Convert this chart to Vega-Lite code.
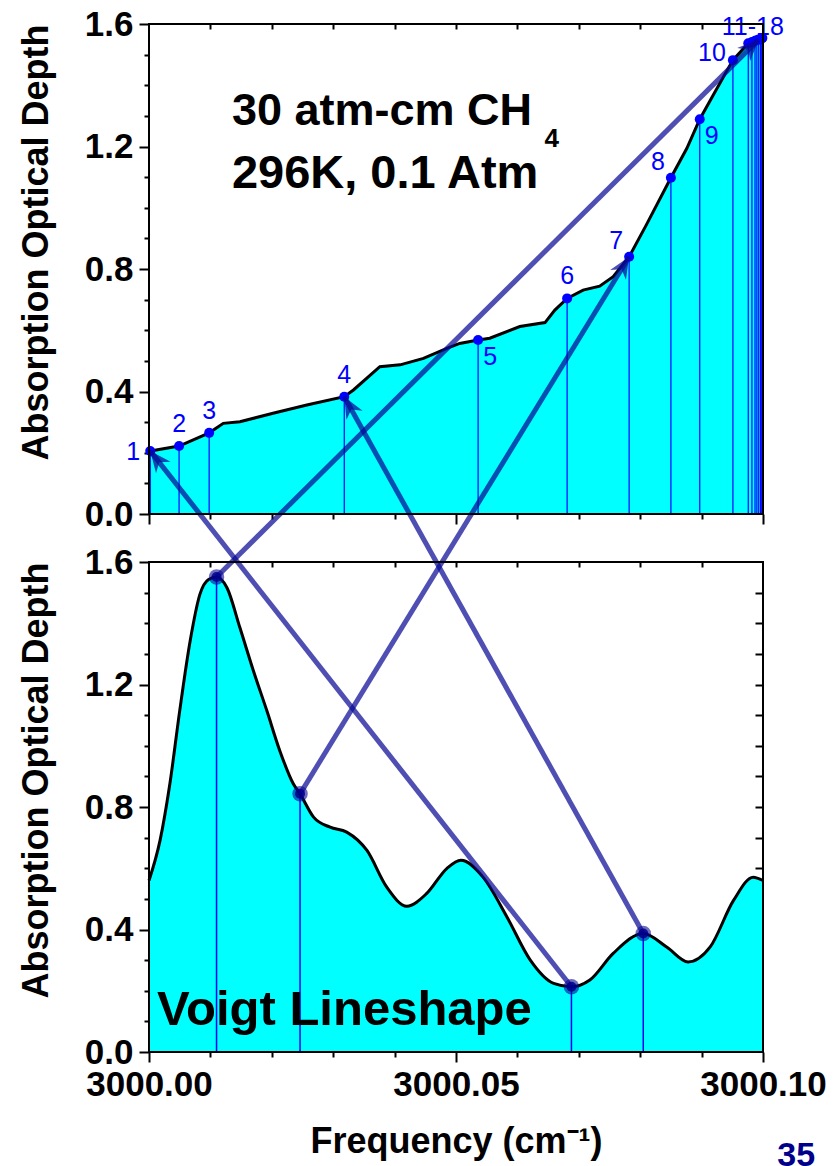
{
  "$schema": "https://vega.github.io/schema/vega-lite/v6.json",
  "width": 614,
  "height": 1028,
  "autosize": {"type": "none"},
  "padding": {"left": 149, "top": 24, "right": 71, "bottom": 114},
  "background": "white",
  "config": {
    "view": {"stroke": null},
    "text": {"font": "Liberation Sans"},
    "axis": {
      "zindex": 1,
      "grid": false,
      "domainColor": "black",
      "domainWidth": 2,
      "tickColor": "black",
      "tickWidth": 2,
      "labelColor": "black",
      "labelFont": "Liberation Sans",
      "labelFontWeight": "bold",
      "labelFontSize": 35,
      "labelFlush": false,
      "labelOverlap": false,
      "titleFont": "Liberation Sans",
      "titleFontWeight": "bold",
      "titleColor": "black"
    }
  },
  "datasets": {
    "topCurve": [
      {"freq": 3000.0000, "depth": 0.205},
      {"freq": 3000.0049, "depth": 0.222},
      {"freq": 3000.0098, "depth": 0.265},
      {"freq": 3000.0121, "depth": 0.296},
      {"freq": 3000.0148, "depth": 0.301},
      {"freq": 3000.0202, "depth": 0.329},
      {"freq": 3000.0257, "depth": 0.356},
      {"freq": 3000.0318, "depth": 0.383},
      {"freq": 3000.0333, "depth": 0.405},
      {"freq": 3000.0376, "depth": 0.481},
      {"freq": 3000.0409, "depth": 0.487},
      {"freq": 3000.0447, "depth": 0.508},
      {"freq": 3000.0485, "depth": 0.541},
      {"freq": 3000.0506, "depth": 0.557},
      {"freq": 3000.0536, "depth": 0.568},
      {"freq": 3000.0555, "depth": 0.574},
      {"freq": 3000.0604, "depth": 0.612},
      {"freq": 3000.0645, "depth": 0.625},
      {"freq": 3000.0661, "depth": 0.666},
      {"freq": 3000.0681, "depth": 0.704},
      {"freq": 3000.0707, "depth": 0.731},
      {"freq": 3000.0734, "depth": 0.744},
      {"freq": 3000.0756, "depth": 0.775},
      {"freq": 3000.0782, "depth": 0.840},
      {"freq": 3000.0810, "depth": 0.944},
      {"freq": 3000.0850, "depth": 1.098},
      {"freq": 3000.0876, "depth": 1.194},
      {"freq": 3000.0897, "depth": 1.289},
      {"freq": 3000.0919, "depth": 1.368},
      {"freq": 3000.0951, "depth": 1.482},
      {"freq": 3000.0976, "depth": 1.537},
      {"freq": 3000.1000, "depth": 1.555}
    ],
    "topPoints": [
      {"n": 1, "group": "1", "freq": 3000.0002, "depth": 0.206},
      {"n": 2, "group": "2", "freq": 3000.0049, "depth": 0.222},
      {"n": 3, "group": "3", "freq": 3000.0098, "depth": 0.265},
      {"n": 4, "group": "4", "freq": 3000.0318, "depth": 0.383},
      {"n": 5, "group": "5", "freq": 3000.0536, "depth": 0.568},
      {"n": 6, "group": "6", "freq": 3000.0681, "depth": 0.704},
      {"n": 7, "group": "7", "freq": 3000.0782, "depth": 0.840},
      {"n": 8, "group": "8", "freq": 3000.0850, "depth": 1.098},
      {"n": 9, "group": "9", "freq": 3000.0897, "depth": 1.289},
      {"n": 10, "group": "10", "freq": 3000.0951, "depth": 1.482},
      {"n": 11, "group": "11-18", "freq": 3000.0976, "depth": 1.537},
      {"n": 12, "group": "11-18", "freq": 3000.0982, "depth": 1.541},
      {"n": 13, "group": "11-18", "freq": 3000.0987, "depth": 1.545},
      {"n": 14, "group": "11-18", "freq": 3000.0990, "depth": 1.547},
      {"n": 15, "group": "11-18", "freq": 3000.0993, "depth": 1.549},
      {"n": 16, "group": "11-18", "freq": 3000.0996, "depth": 1.551},
      {"n": 17, "group": "11-18", "freq": 3000.0998, "depth": 1.553},
      {"n": 18, "group": "11-18", "freq": 3000.0999, "depth": 1.554}
    ],
    "bottomCurve": [
      {"freq": 3000.0000, "depth": 0.560},
      {"freq": 3000.0018, "depth": 0.691},
      {"freq": 3000.0034, "depth": 0.876},
      {"freq": 3000.0050, "depth": 1.114},
      {"freq": 3000.0067, "depth": 1.342},
      {"freq": 3000.0083, "depth": 1.495},
      {"freq": 3000.0097, "depth": 1.543},
      {"freq": 3000.0110, "depth": 1.551},
      {"freq": 3000.0127, "depth": 1.516},
      {"freq": 3000.0148, "depth": 1.386},
      {"freq": 3000.0170, "depth": 1.245},
      {"freq": 3000.0192, "depth": 1.114},
      {"freq": 3000.0213, "depth": 0.984},
      {"freq": 3000.0235, "depth": 0.876},
      {"freq": 3000.0246, "depth": 0.843},
      {"freq": 3000.0268, "depth": 0.767},
      {"freq": 3000.0295, "depth": 0.734},
      {"freq": 3000.0322, "depth": 0.718},
      {"freq": 3000.0355, "depth": 0.658},
      {"freq": 3000.0387, "depth": 0.539},
      {"freq": 3000.0420, "depth": 0.476},
      {"freq": 3000.0452, "depth": 0.517},
      {"freq": 3000.0485, "depth": 0.599},
      {"freq": 3000.0508, "depth": 0.626},
      {"freq": 3000.0544, "depth": 0.571},
      {"freq": 3000.0583, "depth": 0.441},
      {"freq": 3000.0621, "depth": 0.300},
      {"freq": 3000.0659, "depth": 0.224},
      {"freq": 3000.0688, "depth": 0.213},
      {"freq": 3000.0718, "depth": 0.235},
      {"freq": 3000.0756, "depth": 0.322},
      {"freq": 3000.0805, "depth": 0.387},
      {"freq": 3000.0843, "depth": 0.343},
      {"freq": 3000.0878, "depth": 0.294},
      {"freq": 3000.0914, "depth": 0.343},
      {"freq": 3000.0952, "depth": 0.495},
      {"freq": 3000.0984, "depth": 0.571},
      {"freq": 3000.1000, "depth": 0.560}
    ],
    "arrows": [
      {"id": "A", "from_freq": 3000.0110, "from_depth": 1.551, "to_freq": 3000.0993, "to_depth": 1.549},
      {"id": "B", "from_freq": 3000.0246, "from_depth": 0.843, "to_freq": 3000.0782, "to_depth": 0.840},
      {"id": "C", "from_freq": 3000.0688, "from_depth": 0.213, "to_freq": 3000.0002, "to_depth": 0.206},
      {"id": "D", "from_freq": 3000.0805, "from_depth": 0.387, "to_freq": 3000.0318, "to_depth": 0.383}
    ]
  },
  "resolve": {"scale": {"x": "independent", "y": "independent"}},
  "layer": [
    {
      "data": {"name": "topCurve"},
      "mark": {"type": "area", "color": "#00FFFF", "opacity": 1},
      "encoding": {
        "x": {"field": "freq", "type": "quantitative", "scale": {"domain": [3000, 3000.1], "nice": false, "zero": false}, "axis": null},
        "y": {"field": "depth", "type": "quantitative", "scale": {"domain": [0, 1.6], "range": [490, 0], "nice": false, "zero": false}, "axis": null}
      }
    },
    {
      "data": {"name": "topPoints"},
      "mark": {"type": "rule", "color": "#0000FF", "strokeWidth": 1.2},
      "encoding": {
        "x": {"field": "freq", "type": "quantitative", "scale": {"domain": [3000, 3000.1], "nice": false, "zero": false}, "axis": null},
        "y": {"field": "depth", "type": "quantitative", "scale": {"domain": [0, 1.6], "range": [490, 0], "nice": false, "zero": false}, "axis": null},
        "y2": {"datum": 0}
      }
    },
    {
      "data": {"name": "topCurve"},
      "mark": {"type": "line", "color": "black", "strokeWidth": 3},
      "encoding": {
        "x": {"field": "freq", "type": "quantitative", "scale": {"domain": [3000, 3000.1], "nice": false, "zero": false}, "axis": null},
        "y": {"field": "depth", "type": "quantitative", "scale": {"domain": [0, 1.6], "range": [490, 0], "nice": false, "zero": false}, "axis": null}
      }
    },
    {
      "data": {"name": "topPoints"},
      "mark": {"type": "circle", "color": "#0000FF", "opacity": 1, "size": 100},
      "encoding": {
        "x": {"field": "freq", "type": "quantitative", "scale": {"domain": [3000, 3000.1], "nice": false, "zero": false}, "axis": null},
        "y": {"field": "depth", "type": "quantitative", "scale": {"domain": [0, 1.6], "range": [490, 0], "nice": false, "zero": false}, "axis": null}
      }
    },
    {
      "data": {"name": "topPoints"},
      "transform": [{"filter": {"field": "n", "oneOf": [2, 3, 4, 6]}}],
      "mark": {"type": "text", "color": "#0000FF", "fontSize": 25, "align": "center", "baseline": "middle", "dy": -22},
      "encoding": {
        "x": {"field": "freq", "type": "quantitative", "scale": {"domain": [3000, 3000.1], "nice": false, "zero": false}, "axis": null},
        "y": {"field": "depth", "type": "quantitative", "scale": {"domain": [0, 1.6], "range": [490, 0], "nice": false, "zero": false}, "axis": null},
        "text": {"field": "group"}
      }
    },
    {
      "data": {"name": "topPoints"},
      "transform": [{"filter": {"field": "n", "oneOf": [5, 9]}}],
      "mark": {"type": "text", "color": "#0000FF", "fontSize": 25, "align": "center", "baseline": "middle", "dx": 12, "dy": 17},
      "encoding": {
        "x": {"field": "freq", "type": "quantitative", "scale": {"domain": [3000, 3000.1], "nice": false, "zero": false}, "axis": null},
        "y": {"field": "depth", "type": "quantitative", "scale": {"domain": [0, 1.6], "range": [490, 0], "nice": false, "zero": false}, "axis": null},
        "text": {"field": "group"}
      }
    },
    {
      "data": {"name": "topPoints"},
      "transform": [{"filter": {"field": "n", "oneOf": [7, 8]}}],
      "mark": {"type": "text", "color": "#0000FF", "fontSize": 25, "align": "center", "baseline": "middle", "dx": -13, "dy": -16},
      "encoding": {
        "x": {"field": "freq", "type": "quantitative", "scale": {"domain": [3000, 3000.1], "nice": false, "zero": false}, "axis": null},
        "y": {"field": "depth", "type": "quantitative", "scale": {"domain": [0, 1.6], "range": [490, 0], "nice": false, "zero": false}, "axis": null},
        "text": {"field": "group"}
      }
    },
    {
      "data": {"name": "topPoints"},
      "transform": [{"filter": {"field": "n", "oneOf": [1]}}],
      "mark": {"type": "text", "color": "#0000FF", "fontSize": 25, "align": "right", "baseline": "middle", "dx": -10, "dy": 1},
      "encoding": {
        "x": {"field": "freq", "type": "quantitative", "scale": {"domain": [3000, 3000.1], "nice": false, "zero": false}, "axis": null},
        "y": {"field": "depth", "type": "quantitative", "scale": {"domain": [0, 1.6], "range": [490, 0], "nice": false, "zero": false}, "axis": null},
        "text": {"field": "group"}
      }
    },
    {
      "data": {"name": "topPoints"},
      "transform": [{"filter": {"field": "n", "oneOf": [10]}}],
      "mark": {"type": "text", "color": "#0000FF", "fontSize": 25, "align": "right", "baseline": "middle", "dx": -7, "dy": -7},
      "encoding": {
        "x": {"field": "freq", "type": "quantitative", "scale": {"domain": [3000, 3000.1], "nice": false, "zero": false}, "axis": null},
        "y": {"field": "depth", "type": "quantitative", "scale": {"domain": [0, 1.6], "range": [490, 0], "nice": false, "zero": false}, "axis": null},
        "text": {"field": "group"}
      }
    },
    {
      "data": {"name": "topPoints"},
      "transform": [{"filter": {"field": "n", "oneOf": [14]}}],
      "mark": {"type": "text", "color": "#0000FF", "fontSize": 25, "align": "center", "baseline": "middle", "dx": -4, "dy": -13},
      "encoding": {
        "x": {"field": "freq", "type": "quantitative", "scale": {"domain": [3000, 3000.1], "nice": false, "zero": false}, "axis": null},
        "y": {"field": "depth", "type": "quantitative", "scale": {"domain": [0, 1.6], "range": [490, 0], "nice": false, "zero": false}, "axis": null},
        "text": {"field": "group"}
      }
    },
    {
      "data": {"values": [{"note": "30 atm-cm CH"}]},
      "mark": {"type": "text", "color": "black", "fontSize": 45, "fontWeight": "bold", "align": "left", "baseline": "alphabetic"},
      "encoding": {
        "x": {"datum": 3000.0135, "type": "quantitative", "scale": {"domain": [3000, 3000.1], "nice": false, "zero": false}, "axis": null},
        "y": {"datum": 1.27, "type": "quantitative", "scale": {"domain": [0, 1.6], "range": [490, 0], "nice": false, "zero": false}, "axis": null},
        "text": {"field": "note"}
      }
    },
    {
      "data": {"values": [{"note": "4"}]},
      "mark": {"type": "text", "color": "black", "fontSize": 26, "fontWeight": "bold", "align": "left", "baseline": "alphabetic"},
      "encoding": {
        "x": {"datum": 3000.0644, "type": "quantitative", "scale": {"domain": [3000, 3000.1], "nice": false, "zero": false}, "axis": null},
        "y": {"datum": 1.198, "type": "quantitative", "scale": {"domain": [0, 1.6], "range": [490, 0], "nice": false, "zero": false}, "axis": null},
        "text": {"field": "note"}
      }
    },
    {
      "data": {"values": [{"note": "296K, 0.1 Atm"}]},
      "mark": {"type": "text", "color": "black", "fontSize": 47, "fontWeight": "bold", "align": "left", "baseline": "alphabetic"},
      "encoding": {
        "x": {"datum": 3000.0135, "type": "quantitative", "scale": {"domain": [3000, 3000.1], "nice": false, "zero": false}, "axis": null},
        "y": {"datum": 1.0645, "type": "quantitative", "scale": {"domain": [0, 1.6], "range": [490, 0], "nice": false, "zero": false}, "axis": null},
        "text": {"field": "note"}
      }
    },
    {
      "data": {"name": "bottomCurve"},
      "mark": {"type": "area", "color": "#00FFFF", "opacity": 1, "interpolate": "monotone"},
      "encoding": {
        "x": {"field": "freq", "type": "quantitative", "scale": {"domain": [3000, 3000.1], "nice": false, "zero": false}, "axis": null},
        "y": {"field": "depth", "type": "quantitative", "scale": {"domain": [0, 1.6], "range": [1028, 538], "nice": false, "zero": false}, "axis": null}
      }
    },
    {
      "data": {"name": "arrows"},
      "mark": {"type": "rule", "color": "#0000FF", "strokeWidth": 1.5},
      "encoding": {
        "x": {"field": "from_freq", "type": "quantitative", "scale": {"domain": [3000, 3000.1], "nice": false, "zero": false}, "axis": null},
        "y": {"field": "from_depth", "type": "quantitative", "scale": {"domain": [0, 1.6], "range": [1028, 538], "nice": false, "zero": false}, "axis": null},
        "y2": {"datum": 0}
      }
    },
    {
      "data": {"name": "bottomCurve"},
      "mark": {"type": "line", "color": "black", "strokeWidth": 3, "interpolate": "monotone"},
      "encoding": {
        "x": {"field": "freq", "type": "quantitative", "scale": {"domain": [3000, 3000.1], "nice": false, "zero": false}, "axis": null},
        "y": {"field": "depth", "type": "quantitative", "scale": {"domain": [0, 1.6], "range": [1028, 538], "nice": false, "zero": false}, "axis": null}
      }
    },
    {
      "data": {"values": [{"note": "Voigt Lineshape"}]},
      "mark": {"type": "text", "color": "black", "fontSize": 49, "fontWeight": "bold", "align": "left", "baseline": "alphabetic"},
      "encoding": {
        "x": {"datum": 3000.0013, "type": "quantitative", "scale": {"domain": [3000, 3000.1], "nice": false, "zero": false}, "axis": null},
        "y": {"datum": 0.088, "type": "quantitative", "scale": {"domain": [0, 1.6], "range": [1028, 538], "nice": false, "zero": false}, "axis": null},
        "text": {"field": "note"}
      }
    },
    {
      "data": {"name": "arrows"},
      "mark": {"type": "rule", "color": "#0A0A96", "opacity": 0.72, "strokeWidth": 5, "y2Offset": -538},
      "encoding": {
        "x": {"field": "from_freq", "type": "quantitative", "scale": {"domain": [3000, 3000.1], "nice": false, "zero": false}, "axis": null},
        "y": {"field": "from_depth", "type": "quantitative", "scale": {"domain": [0, 1.6], "range": [1028, 538], "nice": false, "zero": false}, "axis": null},
        "x2": {"field": "to_freq"},
        "y2": {"field": "to_depth"}
      }
    },
    {
      "data": {"name": "arrows"},
      "transform": [{"filter": {"field": "id", "equal": "A"}}],
      "mark": {"type": "point", "shape": "M0,0 L0.7,1.6 L0,1.1 L-0.7,1.6 Z", "filled": true, "color": "#0A0A96", "opacity": 0.72, "size": 700, "angle": 45.2},
      "encoding": {
        "x": {"field": "to_freq", "type": "quantitative", "scale": {"domain": [3000, 3000.1], "nice": false, "zero": false}, "axis": null},
        "y": {"field": "to_depth", "type": "quantitative", "scale": {"domain": [0, 1.6], "range": [490, 0], "nice": false, "zero": false}, "axis": null}
      }
    },
    {
      "data": {"name": "arrows"},
      "transform": [{"filter": {"field": "id", "equal": "B"}}],
      "mark": {"type": "point", "shape": "M0,0 L0.7,1.6 L0,1.1 L-0.7,1.6 Z", "filled": true, "color": "#0A0A96", "opacity": 0.72, "size": 700, "angle": 31.6},
      "encoding": {
        "x": {"field": "to_freq", "type": "quantitative", "scale": {"domain": [3000, 3000.1], "nice": false, "zero": false}, "axis": null},
        "y": {"field": "to_depth", "type": "quantitative", "scale": {"domain": [0, 1.6], "range": [490, 0], "nice": false, "zero": false}, "axis": null}
      }
    },
    {
      "data": {"name": "arrows"},
      "transform": [{"filter": {"field": "id", "equal": "C"}}],
      "mark": {"type": "point", "shape": "M0,0 L0.7,1.6 L0,1.1 L-0.7,1.6 Z", "filled": true, "color": "#0A0A96", "opacity": 0.72, "size": 700, "angle": -38.2},
      "encoding": {
        "x": {"field": "to_freq", "type": "quantitative", "scale": {"domain": [3000, 3000.1], "nice": false, "zero": false}, "axis": null},
        "y": {"field": "to_depth", "type": "quantitative", "scale": {"domain": [0, 1.6], "range": [490, 0], "nice": false, "zero": false}, "axis": null}
      }
    },
    {
      "data": {"name": "arrows"},
      "transform": [{"filter": {"field": "id", "equal": "D"}}],
      "mark": {"type": "point", "shape": "M0,0 L0.7,1.6 L0,1.1 L-0.7,1.6 Z", "filled": true, "color": "#0A0A96", "opacity": 0.72, "size": 700, "angle": -29.1},
      "encoding": {
        "x": {"field": "to_freq", "type": "quantitative", "scale": {"domain": [3000, 3000.1], "nice": false, "zero": false}, "axis": null},
        "y": {"field": "to_depth", "type": "quantitative", "scale": {"domain": [0, 1.6], "range": [490, 0], "nice": false, "zero": false}, "axis": null}
      }
    },
    {
      "data": {"name": "arrows"},
      "mark": {"type": "circle", "color": "#0A0A96", "opacity": 0.6, "size": 240},
      "encoding": {
        "x": {"field": "from_freq", "type": "quantitative", "scale": {"domain": [3000, 3000.1], "nice": false, "zero": false}, "axis": null},
        "y": {"field": "from_depth", "type": "quantitative", "scale": {"domain": [0, 1.6], "range": [1028, 538], "nice": false, "zero": false}, "axis": null}
      }
    },
    {
      "data": {"name": "arrows"},
      "mark": {"type": "circle", "color": "#00008B", "opacity": 0.85, "size": 100},
      "encoding": {
        "x": {"field": "from_freq", "type": "quantitative", "scale": {"domain": [3000, 3000.1], "nice": false, "zero": false}, "axis": null},
        "y": {"field": "from_depth", "type": "quantitative", "scale": {"domain": [0, 1.6], "range": [1028, 538], "nice": false, "zero": false}, "axis": null}
      }
    },
    {
      "data": {"values": [{"note": "35"}]},
      "mark": {"type": "text", "color": "#00008B", "fontSize": 34, "fontWeight": "bold", "align": "center", "baseline": "alphabetic"},
      "encoding": {
        "x": {"datum": 3000.1054, "type": "quantitative", "scale": {"domain": [3000, 3000.1], "nice": false, "zero": false}, "axis": null},
        "y": {"datum": -0.372, "type": "quantitative", "scale": {"domain": [0, 1.6], "range": [1028, 538], "nice": false, "zero": false}, "axis": null},
        "text": {"field": "note"}
      }
    },
    {
      "data": {"values": [{}]},
      "mark": {"type": "rect", "fill": "transparent", "stroke": "black", "strokeWidth": 2},
      "encoding": {
        "x": {"datum": 3000, "type": "quantitative", "scale": {"domain": [3000, 3000.1], "nice": false, "zero": false},
          "axis": {"orient": "bottom", "offset": -538, "values": [3000, 3000.05, 3000.1], "labels": false, "tickSize": 10, "domain": false, "title": null}},
        "x2": {"datum": 3000.1},
        "y": {"datum": 0, "type": "quantitative", "scale": {"domain": [0, 1.6], "range": [490, 0], "nice": false, "zero": false},
          "axis": {"orient": "left", "values": [0, 0.4, 0.8, 1.2, 1.6], "format": ".1f", "tickSize": 10, "labelPadding": 6, "domain": false,
            "title": "Absorption Optical Depth", "titleFontSize": 36, "titleAnchor": "end", "titlePadding": 29}},
        "y2": {"datum": 1.6}
      }
    },
    {
      "data": {"values": [{}]},
      "mark": {"type": "rect", "opacity": 0},
      "encoding": {
        "x": {"datum": 3000, "type": "quantitative", "scale": {"domain": [3000, 3000.1], "nice": false, "zero": false},
          "axis": {"orient": "bottom", "offset": -538, "values": [3000.01, 3000.02, 3000.03, 3000.04, 3000.06, 3000.07, 3000.08, 3000.09], "labels": false, "tickSize": 5, "domain": false, "title": null}},
        "x2": {"datum": 3000.1},
        "y": {"datum": 0, "type": "quantitative", "scale": {"domain": [0, 1.6], "range": [490, 0], "nice": false, "zero": false},
          "axis": {"orient": "left", "values": [0.1, 0.2, 0.3, 0.5, 0.6, 0.7, 0.9, 1.0, 1.1, 1.3, 1.4, 1.5], "labels": false, "tickSize": 5, "domain": false, "title": null}},
        "y2": {"datum": 1.6}
      }
    },
    {
      "data": {"values": [{}]},
      "mark": {"type": "rect", "opacity": 0},
      "encoding": {
        "x": {"datum": 3000, "type": "quantitative", "scale": {"domain": [3000, 3000.1], "nice": false, "zero": false},
          "axis": {"orient": "bottom", "offset": -1028, "values": [3000.01, 3000.02, 3000.03, 3000.04, 3000.05, 3000.06, 3000.07, 3000.08, 3000.09], "labels": false, "tickSize": 5, "domain": false, "title": null}},
        "x2": {"datum": 3000.1},
        "y": {"datum": 0, "type": "quantitative", "scale": {"domain": [0, 1.6], "range": [490, 0], "nice": false, "zero": false},
          "axis": {"orient": "left", "offset": -614, "values": [0.1, 0.2, 0.3, 0.4, 0.5, 0.6, 0.7, 0.8, 0.9, 1.0, 1.1, 1.2, 1.3, 1.4, 1.5], "labels": false, "tickSize": 8, "domain": false, "title": null}},
        "y2": {"datum": 1.6}
      }
    },
    {
      "data": {"values": [{}]},
      "mark": {"type": "rect", "fill": "transparent", "stroke": "black", "strokeWidth": 2},
      "encoding": {
        "x": {"datum": 3000, "type": "quantitative", "scale": {"domain": [3000, 3000.1], "nice": false, "zero": false},
          "axis": {"orient": "bottom", "values": [3000, 3000.05, 3000.1], "format": ".2f", "tickSize": 10, "labelPadding": 5, "domain": false,
            "title": "Frequency (cm⁻¹)", "titleFontSize": 36, "titlePadding": 22}},
        "x2": {"datum": 3000.1},
        "y": {"datum": 0, "type": "quantitative", "scale": {"domain": [0, 1.6], "range": [1028, 538], "nice": false, "zero": false},
          "axis": {"orient": "left", "values": [0, 0.4, 0.8, 1.2, 1.6], "format": ".1f", "tickSize": 10, "labelPadding": 6, "domain": false,
            "title": "Absorption Optical Depth", "titleFontSize": 36, "titleAnchor": "end", "titlePadding": 29}},
        "y2": {"datum": 1.6}
      }
    },
    {
      "data": {"values": [{}]},
      "mark": {"type": "rect", "opacity": 0},
      "encoding": {
        "x": {"datum": 3000, "type": "quantitative", "scale": {"domain": [3000, 3000.1], "nice": false, "zero": false},
          "axis": {"orient": "bottom", "values": [3000.01, 3000.02, 3000.03, 3000.04, 3000.06, 3000.07, 3000.08, 3000.09], "labels": false, "tickSize": 5, "domain": false, "title": null}},
        "x2": {"datum": 3000.1},
        "y": {"datum": 0, "type": "quantitative", "scale": {"domain": [0, 1.6], "range": [1028, 538], "nice": false, "zero": false},
          "axis": {"orient": "left", "values": [0.1, 0.2, 0.3, 0.5, 0.6, 0.7, 0.9, 1.0, 1.1, 1.3, 1.4, 1.5], "labels": false, "tickSize": 5, "domain": false, "title": null}},
        "y2": {"datum": 1.6}
      }
    },
    {
      "data": {"values": [{}]},
      "mark": {"type": "rect", "opacity": 0},
      "encoding": {
        "x": {"datum": 3000, "type": "quantitative", "scale": {"domain": [3000, 3000.1], "nice": false, "zero": false},
          "axis": {"orient": "bottom", "offset": -490, "values": [3000.01, 3000.02, 3000.03, 3000.04, 3000.05, 3000.06, 3000.07, 3000.08, 3000.09], "labels": false, "tickSize": 5, "domain": false, "title": null}},
        "x2": {"datum": 3000.1},
        "y": {"datum": 0, "type": "quantitative", "scale": {"domain": [0, 1.6], "range": [1028, 538], "nice": false, "zero": false},
          "axis": {"orient": "left", "offset": -614, "values": [0.1, 0.2, 0.3, 0.4, 0.5, 0.6, 0.7, 0.8, 0.9, 1.0, 1.1, 1.2, 1.3, 1.4, 1.5], "labels": false, "tickSize": 8, "domain": false, "title": null}},
        "y2": {"datum": 1.6}
      }
    }
  ]
}
